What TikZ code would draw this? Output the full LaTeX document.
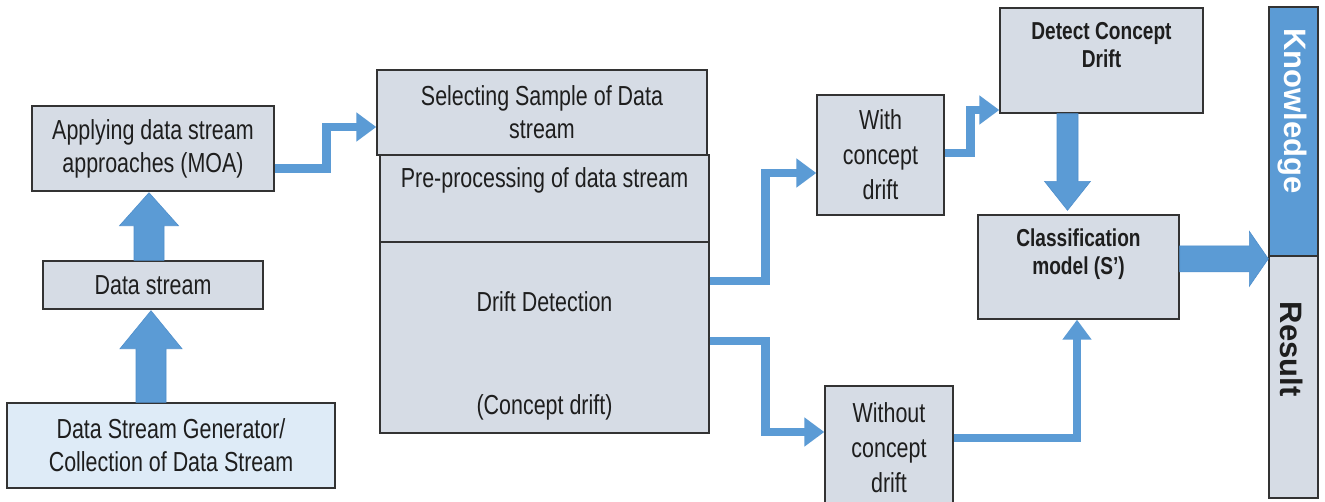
\documentclass[tikz,border=0pt]{standalone}
\usepackage{fontspec}
\setmainfont{Liberation Sans}[FakeStretch=0.78]
\newfontfamily\widefont{Liberation Sans}
\usetikzlibrary{arrows.meta,calc}
\definecolor{boxfill}{HTML}{D6DCE5}
\definecolor{genfill}{HTML}{DEEBF7}
\definecolor{flow}{HTML}{5B9BD5}
\definecolor{flowedge}{HTML}{4F8FCC}
\definecolor{ink}{HTML}{1E1E1E}
\definecolor{edge}{HTML}{333333}

\tikzset{
  box/.style={draw=edge, line width=1.4pt, fill=boxfill, inner sep=0pt,
    align=center, text=ink, font=\fontsize{27.5}{33}\selectfont},
  tallbox/.style={box, font=\fontsize{27.5}{35}\selectfont},
  txt/.style={inner sep=0pt, align=center, text=ink, font=\fontsize{27.5}{33}\selectfont},
  boldtxt/.style={inner sep=0pt, align=center, text=ink, font=\bfseries\fontsize{24.5}{28}\selectfont},
  sidetxt/.style={inner sep=0pt, rotate=-90, font=\widefont\bfseries\fontsize{31}{31}\selectfont},
  conn/.style={draw=flow, line width=8.5pt, line join=miter,
    -{Triangle[width=28pt,length=20pt]}},
  blockarrow/.style={fill=flow, draw=flowedge, line width=0.6pt, line join=miter},
}

% block arrows: #1 tip, #2 tail, #3 shaft half width, #4 head half width, #5 head length
\newcommand\blkup[5]{\path[blockarrow] let \p1=(#1), \p2=(#2) in
  (\x1,\y1) -- ({\x1+#4},{\y1-#5}) -- ({\x1+#3},{\y1-#5}) -- ({\x1+#3},\y2)
  -- ({\x1-#3},\y2) -- ({\x1-#3},{\y1-#5}) -- ({\x1-#4},{\y1-#5}) -- cycle;}
\newcommand\blkdown[5]{\path[blockarrow] let \p1=(#1), \p2=(#2) in
  (\x1,\y1) -- ({\x1+#4},{\y1+#5}) -- ({\x1+#3},{\y1+#5}) -- ({\x1+#3},\y2)
  -- ({\x1-#3},\y2) -- ({\x1-#3},{\y1+#5}) -- ({\x1-#4},{\y1+#5}) -- cycle;}
\newcommand\blkright[5]{\path[blockarrow] let \p1=(#1), \p2=(#2) in
  (\x1,\y1) -- ({\x1-#5},{\y1+#4}) -- ({\x1-#5},{\y1+#3}) -- (\x2,{\y1+#3})
  -- (\x2,{\y1-#3}) -- ({\x1-#5},{\y1-#3}) -- ({\x1-#5},{\y1-#4}) -- cycle;}

\begin{document}
\begin{tikzpicture}[x=1pt,y=-1pt]
\useasboundingbox[fill=white] (0,0) rectangle (1325,501);

% left column
\node[box, minimum width=242pt, minimum height=85pt] (app) at (153,148.5)
  {Applying data stream\\approaches (MOA)};
\node[box, minimum width=220pt, minimum height=48pt] (ds) at (153,285) {Data stream};
\node[box, fill=genfill, minimum width=328pt, minimum height=85pt] (gen) at (171,445.5)
  {Data Stream Generator/\\Collection of Data Stream};

% central stack
\node[box, minimum width=330pt, minimum height=85pt] (sel) at (542,112.5)
  {Selecting Sample of Data\\stream};
\node[box, minimum width=329pt, minimum height=87pt] (pre) at (544.5,198.5) {};
\node[txt] (pret) at (544.5,180) {Pre-processing of data stream};
\node[box, minimum width=329pt, minimum height=191pt] (drift) at (544.5,337.5) {};
\node[txt] (driftt) at (544.5,302) {Drift Detection};
\node[txt] (conct) at (544.5,407) {(Concept drift)};

% branches
\node[tallbox, minimum width=127pt, minimum height=120pt] (with) at (880.5,155)
  {With\\concept\\drift};
\begin{scope}
\clip (0,0) rectangle (1325,501);
\node[tallbox, minimum width=128pt, minimum height=124pt] (without) at (889,448)
  {Without\\concept\\drift};
\end{scope}

% right part
\node[box, minimum width=203pt, minimum height=105pt] (det) at (1101.5,60.5) {};
\node[boldtxt] (dett) at (1101.5,45) {Detect Concept\\Drift};
\node[box, minimum width=201pt, minimum height=104pt] (cls) at (1078.5,267) {};
\node[boldtxt] (clst) at (1078.5,254) {Classification\\model (S')};

\node[draw=edge, line width=1.4pt, fill=flow, minimum width=49pt, minimum height=249pt,
  inner sep=0pt] (know) at (1293.5,131.5) {};
\node[draw=edge, line width=1.4pt, fill=boxfill, minimum width=49pt, minimum height=242pt,
  inner sep=0pt] (res) at (1293.5,377) {};
\node[sidetxt, text=white] (knowt) at (1292,111) {Knowledge};
\node[sidetxt, text=ink] (rest) at (1292,349) {Result};

% block arrows
\blkup{$(ds.south)+(-2,1)$}{gen.north}{15pt}{31pt}{38pt}
\blkup{$(app.south)+(-4,1)$}{ds.north}{15pt}{29.5pt}{33pt}
\blkdown{$(cls.north)+(-11,-4)$}{det.south}{10.5pt}{23pt}{29pt}
\blkright{$(res.north west)+(0,3.5)$}{cls.east}{13pt}{27.5pt}{19pt}

% thin connectors
\draw[conn] ([yshift=-20pt]app.east) -- ++(52,0) |- ([yshift=-14.5pt]sel.west);
\draw[conn] ([yshift=56.5pt]drift.east) -- ++(56,0) |- ([yshift=-18pt]with.west);
\draw[conn] ([yshift=-3.5pt]drift.east) -- ++(56,0) |- ([yshift=16pt]without.west);
\draw[conn] ([yshift=2pt]with.east) -- ++(26,0) |- ([yshift=-49.5pt]det.west);
\draw[conn] ([yshift=10pt]without.east) -| ([xshift=-1.5pt]cls.south);
\end{tikzpicture}
\end{document}
